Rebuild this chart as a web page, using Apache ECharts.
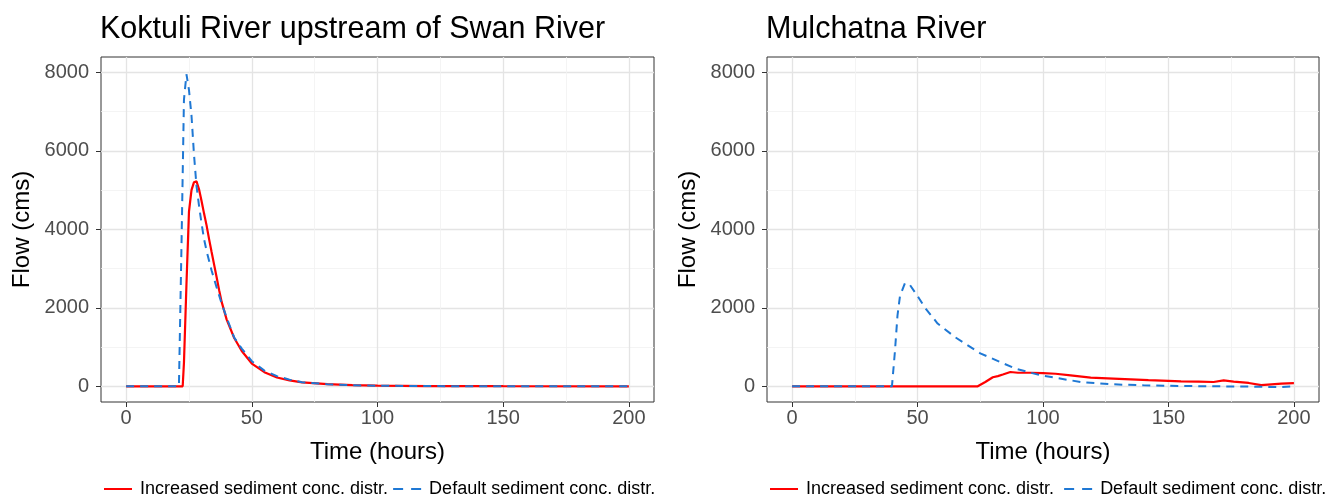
<!DOCTYPE html>
<html><head><meta charset="utf-8">
<script src="https://cdn.jsdelivr.net/npm/echarts@6/dist/echarts.min.js"></script>
<style>html,body{margin:0;padding:0;background:#fff}#c{width:1332px;height:500px}</style>
</head><body><div id="c"></div>
<script>
// ---- data ----
const titles = ['Koktuli River upstream of Swan River', 'Mulchatna River'];
const seriesNames = ['Increased sediment conc. distr.', 'Default sediment conc. distr.'];
const yTicks = [0, 2000, 4000, 6000, 8000];
const xTicks = [0, 50, 100, 150, 200];

// Koktuli – increased sediment (time h, flow cms)
const kokIncT = [0, 22.5, 23, 24, 25, 26, 27, 28, 29, 30, 31, 32, 33, 34, 35, 36, 37, 38, 40, 43, 46, 50, 55, 60, 65, 70, 80, 90, 100, 120, 150, 200];
const kokIncV = [0, 0, 600, 2600, 4450, 5000, 5200, 5220, 5020, 4720, 4400, 4100, 3750, 3420, 3100, 2780, 2450, 2150, 1700, 1230, 900, 580, 360, 225, 150, 100, 55, 30, 18, 6, 2, 0];
// Koktuli – default
const kokDefT = [0, 21, 22, 23, 24, 25, 26, 27, 28, 29, 30, 31, 32, 34, 36, 38, 40, 43, 46, 50, 55, 60, 65, 70, 80, 90, 100, 120, 150, 200];
const kokDefV = [0, 0, 3500, 7300, 7950, 7550, 6900, 5900, 5100, 4600, 4150, 3750, 3450, 2950, 2520, 2110, 1750, 1240, 960, 640, 400, 260, 170, 105, 55, 28, 15, 5, 2, 0];
// Mulchatna – increased sediment
const mulIncT = [0, 74, 77, 80, 82, 84, 87, 90, 95, 100, 105, 111, 119, 128, 135, 142, 150, 155, 162, 168, 172, 176, 182, 187, 191, 195, 200];
const mulIncV = [0, 0, 110, 230, 260, 300, 365, 345, 345, 335, 320, 280, 220, 195, 175, 155, 140, 127, 118, 110, 150, 120, 85, 30, 50, 68, 80];
// Mulchatna – default
const mulDefT = [0, 39.8, 41, 42, 43, 45, 47, 50, 53, 58, 65, 75, 89, 99, 115, 128, 140, 155, 170, 185, 195, 200];
const mulDefV = [0, 0, 900, 1800, 2300, 2630, 2580, 2300, 2000, 1600, 1250, 840, 450, 280, 110, 50, 25, 8, 0, -10, -20, 0];

const pairs = (t, v) => t.map((x, i) => [x, v[i]]);

const FONT = '"Liberation Sans", Arial, sans-serif';
const RED = '#ff0000', BLUE = '#1f78d4';
const gridsPos = [{left: 101, width: 553}, {left: 767, width: 552}];

const chart = echarts.init(document.getElementById('c'), null, {renderer: 'canvas'});

const xAxis = [], yAxis = [], grid = [], title = [], legend = [], series = [];
const fmt = v => String(v);
[0, 1].forEach(i => {
  const sfx = i === 0 ? '' : ' ';
  grid.push({left: gridsPos[i].left, top: 57, width: gridsPos[i].width, height: 345,
    show: true, borderColor: '#333', borderWidth: 1, backgroundColor: '#fff'});
  title.push({text: titles[i], left: gridsPos[i].left - 1, top: 14, padding: 0,
    textStyle: {fontFamily: FONT, fontSize: 30.5, fontWeight: 'normal', color: '#000'}});
  xAxis.push({type: 'value', gridIndex: i, min: -10, max: 210,
    name: 'Time (hours)', nameLocation: 'middle', nameGap: 38,
    nameTextStyle: {fontFamily: FONT, fontSize: 24, color: '#000'},
    axisLine: {show: false, onZero: false},
    axisTick: {show: true, length: 5, lineStyle: {color: '#333'}, customValues: xTicks},
    axisLabel: {fontFamily: FONT, fontSize: 20, color: '#4d4d4d', margin: 6, customValues: xTicks, formatter: fmt},
    splitLine: {show: true, lineStyle: {color: '#e4e4e4', width: 1.3}},
    minorTick: {show: false, splitNumber: 2},
    minorSplitLine: {show: true, lineStyle: {color: '#f1f1f1', width: 0.8}}
  });
  yAxis.push({type: 'value', gridIndex: i, min: -400, max: 8390,
    name: 'Flow (cms)', nameLocation: 'middle', nameGap: 67,
    nameTextStyle: {fontFamily: FONT, fontSize: 24, color: '#000'},
    axisLine: {show: false, onZero: false},
    axisTick: {show: true, length: 5, lineStyle: {color: '#333'}, customValues: yTicks},
    axisLabel: {fontFamily: FONT, fontSize: 20, color: '#4d4d4d', margin: 12, customValues: yTicks, formatter: fmt},
    splitLine: {show: true, lineStyle: {color: '#e4e4e4', width: 1.3}},
    minorTick: {show: false, splitNumber: 2},
    minorSplitLine: {show: true, lineStyle: {color: '#f1f1f1', width: 0.8}}
  });
  legend.push({left: gridsPos[i].left + 3, top: 480, orient: 'horizontal', padding: 0,
    itemWidth: 28, itemHeight: 2, itemGap: 5,
    textStyle: {fontFamily: FONT, fontSize: 18, color: '#000', padding: [0, 0, 0, 3]},
    data: [
      {name: seriesNames[0] + sfx, icon: 'path://M0,0H28V2H0Z'},
      {name: seriesNames[1] + sfx, icon: 'path://M0,0H10V2H0Z M18,0H28V2H18Z'}
    ]
  });
});

const sets = [[pairs(kokIncT, kokIncV), pairs(kokDefT, kokDefV)], [pairs(mulIncT, mulIncV), pairs(mulDefT, mulDefV)]];
[0, 1].forEach(i => {
  const sfx = i === 0 ? '' : ' ';
  series.push({name: seriesNames[0] + sfx, type: 'line', xAxisIndex: i, yAxisIndex: i,
    data: sets[i][0], showSymbol: false, symbol: 'none', animation: false, z: 2,
    itemStyle: {color: RED}, lineStyle: {color: RED, width: 2.2}});
  series.push({name: seriesNames[1] + sfx, type: 'line', xAxisIndex: i, yAxisIndex: i,
    data: sets[i][1], showSymbol: false, symbol: 'none', animation: false, z: 3,
    itemStyle: {color: BLUE}, lineStyle: {color: BLUE, width: 2, type: [8, 6]}});
});

chart.setOption({animation: false, backgroundColor: '#fff', title, grid, xAxis, yAxis, legend, series});
</script></body></html>
